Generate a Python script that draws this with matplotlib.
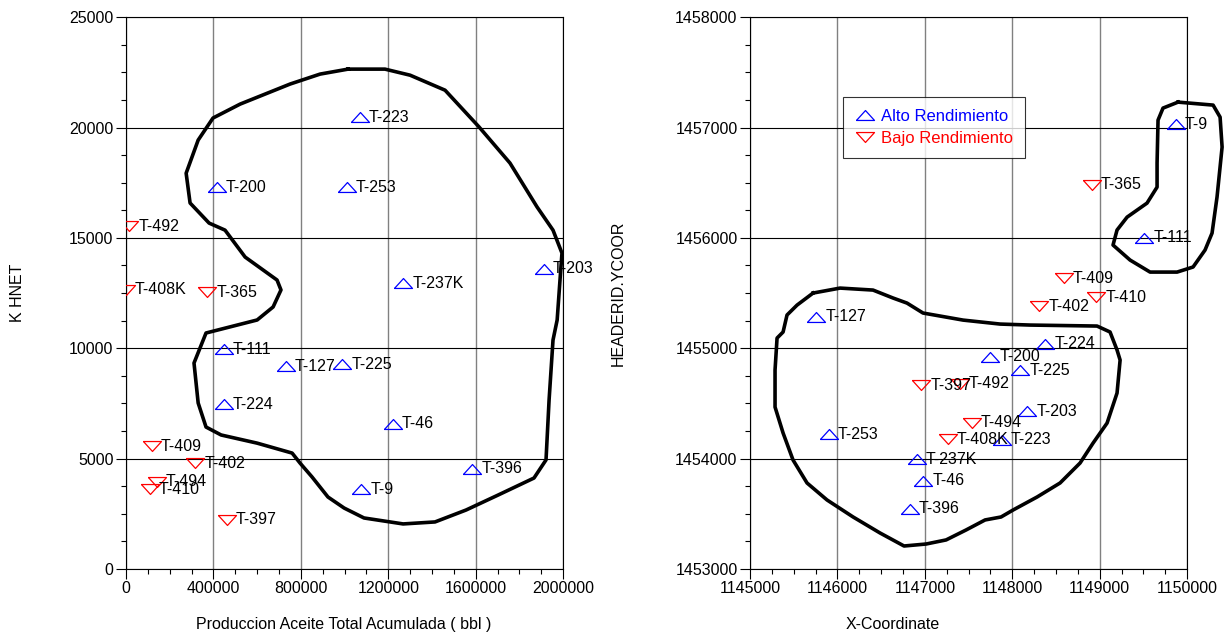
import numpy as np
import matplotlib
matplotlib.use("Agg")
from matplotlib import pyplot as plt
from matplotlib.lines import Line2D
from matplotlib.ticker import MultipleLocator

plt.rcParams['font.family'] = ['Liberation Sans', 'DejaVu Sans']
plt.rcParams['font.size'] = 11.5

# ---- left panel data: production vs K HNET ----
alto_names_l = ['T-223', 'T-200', 'T-253', 'T-237K', 'T-203', 'T-111', 'T-127', 'T-225',
                'T-224', 'T-46', 'T-396', 'T-9']
alto_x_l = [1071000, 416000, 1011000, 1268000, 1913000, 448000, 732000, 989000,
            448000, 1222000, 1584000, 1076000]
alto_y_l = [20470, 17300, 17300, 12950, 13590, 9960, 9190, 9280, 7470, 6570, 4530, 3620]

bajo_names_l = ['T-492', 'T-408K', 'T-365', 'T-409', 'T-402', 'T-494', 'T-410', 'T-397']
bajo_x_l = [14000, 0, 371000, 119000, 316000, 142000, 110000, 462000]
bajo_y_l = [15530, 12640, 12540, 5570, 4800, 3940, 3620, 2220]

# hand-drawn boundary (left)
contour_x_l = [1016000, 1185000, 1300000, 1460000, 1616000, 1757000, 1881000, 1954000, 1995000,
               1986000, 1973000, 1954000, 1936000, 1922000, 1867000, 1703000, 1556000, 1414000,
               1268000, 1089000, 998000, 924000, 851000, 796000, 760000, 600000, 435000, 366000,
               330000, 311000, 366000, 600000, 673000, 709000, 691000, 545000, 453000, 380000,
               293000, 275000, 330000, 398000, 522000, 751000, 888000, 1016000]
contour_y_l = [22645, 22645, 22370, 21690, 20020, 18390, 16400, 15350, 14310,
               13090, 11280, 10370, 7650, 4940, 4120, 3350, 2670, 2130,
               2040, 2310, 2760, 3260, 4170, 4800, 5250, 5700, 6070, 6430,
               7520, 9330, 10690, 11280, 11870, 12640, 13090, 14130, 15350, 15670,
               16580, 17930, 19430, 20430, 21060, 21970, 22420, 22645]

# ---- right panel data: coordinates ----
alto_names_r = ['T-9', 'T-111', 'T-127', 'T-253', 'T-237K', 'T-46', 'T-396', 'T-224',
                'T-200', 'T-225', 'T-203', 'T-223']
alto_x_r = [1149870, 1149510, 1145760, 1145900, 1146910, 1146980, 1146830, 1148380,
            1147750, 1148090, 1148170, 1147880]
alto_y_r = [1457030, 1456000, 1455285, 1454220, 1453995, 1453800, 1453545, 1455040,
            1454925, 1454800, 1454430, 1454170]

bajo_names_r = ['T-365', 'T-409', 'T-402', 'T-410', 'T-397', 'T-492', 'T-494', 'T-408K']
bajo_x_r = [1148910, 1148590, 1148310, 1148960, 1146960, 1147400, 1147540, 1147260]
bajo_y_r = [1456480, 1455635, 1455380, 1455460, 1454665, 1454680, 1454325, 1454175]

# small loop (upper right)
loop1_x = [1149897, 1150298, 1150378, 1150401, 1150343, 1150286, 1150206, 1150069, 1149886,
           1149577, 1149348, 1149153, 1149199, 1149314, 1149542, 1149657, 1149657, 1149668,
           1149725, 1149897]
loop1_y = [1457230, 1457203, 1457094, 1456823, 1456370, 1456043, 1455890, 1455736, 1455690,
           1455690, 1455799, 1455935, 1456071, 1456188, 1456315, 1456460, 1456678, 1457067,
           1457176, 1457230]

# big loop
loop2_x = [1145721, 1146030, 1146407, 1146636, 1146796, 1146979, 1147437, 1147861, 1148204,
           1148970, 1149119, 1149199, 1149234, 1149199, 1149085, 1148925, 1148776, 1148547,
           1148284, 1148009, 1147872, 1147689, 1147471, 1147243, 1147014, 1146762, 1146487,
           1146179, 1145881, 1145652, 1145492, 1145378, 1145286, 1145286, 1145309, 1145378,
           1145423, 1145538, 1145721]
loop2_y = [1455500, 1455545, 1455527, 1455455, 1455409, 1455319, 1455255, 1455219, 1455210,
           1455201, 1455147, 1454984, 1454893, 1454594, 1454322, 1454141, 1453960, 1453779,
           1453652, 1453534, 1453471, 1453444, 1453353, 1453263, 1453226, 1453208, 1453326,
           1453471, 1453625, 1453779, 1453987, 1454232, 1454467, 1454803, 1455092, 1455147,
           1455301, 1455391, 1455500]

# flattened triangles
up_tri = [(-1, -0.55), (1, -0.55), (0, 0.55), (-1, -0.55)]
down_tri = [(-1, 0.55), (1, 0.55), (0, -0.55), (-1, 0.55)]
BLUE = '#0000ff'
RED = '#ff0000'
MS = 13


def wells(ax, xs, ys, names, marker, color):
    ax.plot(xs, ys, linestyle='none', marker=marker, markersize=MS,
            markerfacecolor='none', markeredgecolor=color, markeredgewidth=0.9, zorder=4)
    for x, y, n in zip(xs, ys, names):
        ax.annotate(n, (x, y), xytext=(6.5, 0), textcoords='offset points',
                    ha='left', va='center', fontsize=11.5, color='black', zorder=5)


def style(ax, xmaj, xmin, ymaj, ymin):
    ax.xaxis.set_major_locator(MultipleLocator(xmaj))
    ax.xaxis.set_minor_locator(MultipleLocator(xmin))
    ax.yaxis.set_major_locator(MultipleLocator(ymaj))
    ax.yaxis.set_minor_locator(MultipleLocator(ymin))
    ax.ticklabel_format(style='plain', useOffset=False)
    ax.tick_params(which='major', direction='out', length=7, width=0.8, labelsize=11.5, pad=2)
    ax.tick_params(which='minor', direction='out', length=3.5, width=0.8)
    ax.grid(True, axis='x', color='#808080', linewidth=1.0)
    ax.grid(True, axis='y', color='black', linewidth=0.8)
    ax.set_axisbelow(True)
    for s in ax.spines.values():
        s.set_color('black')
        s.set_linewidth(0.8)


fig = plt.figure(figsize=(12.31, 6.35), dpi=100)
ax1 = fig.add_axes([0.1024, 0.104, 0.355, 0.869])
ax2 = fig.add_axes([0.6093, 0.104, 0.355, 0.869])

# Grafico 1
ax1.plot(contour_x_l, contour_y_l, color='black', linewidth=2.6, zorder=3, clip_on=False)
wells(ax1, alto_x_l, alto_y_l, alto_names_l, up_tri, BLUE)
wells(ax1, bajo_x_l, bajo_y_l, bajo_names_l, down_tri, RED)
ax1.set_xlim(0, 2000000)
ax1.set_ylim(0, 25000)
style(ax1, 400000, 100000, 5000, 1250)
ax1.set_xlabel('Produccion Aceite Total Acumulada ( bbl )', fontsize=11.5)
ax1.set_ylabel('K HNET', fontsize=11.5)
ax1.xaxis.set_label_coords(0.499, -0.087)
ax1.yaxis.set_label_coords(-0.232, 0.5)

# Grafico 2
ax2.plot(loop1_x, loop1_y, color='black', linewidth=2.6, zorder=3, clip_on=False)
ax2.plot(loop2_x, loop2_y, color='black', linewidth=2.6, zorder=3, clip_on=False)
wells(ax2, alto_x_r, alto_y_r, alto_names_r, up_tri, BLUE)
wells(ax2, bajo_x_r, bajo_y_r, bajo_names_r, down_tri, RED)
ax2.set_xlim(1145000, 1150000)
ax2.set_ylim(1453000, 1458000)
style(ax2, 1000, 250, 1000, 250)
ax2.set_xlabel('X-Coordinate', fontsize=11.5)
ax2.set_ylabel('HEADERID.YCOOR', fontsize=11.5)
ax2.xaxis.set_label_coords(0.327, -0.087)
ax2.yaxis.set_label_coords(-0.285, 0.5)

handles = [
    Line2D([], [], linestyle='none', marker=up_tri, markersize=MS, markerfacecolor='none',
           markeredgecolor=BLUE, markeredgewidth=0.9),
    Line2D([], [], linestyle='none', marker=down_tri, markersize=MS, markerfacecolor='none',
           markeredgecolor=RED, markeredgewidth=0.9),
]
leg = ax2.legend(handles, ['Alto Rendimiento', 'Bajo Rendimiento'], loc='upper left',
                 bbox_to_anchor=(0.213, 0.855), fontsize=12, frameon=True, fancybox=False,
                 handlelength=1.2, handletextpad=0.4, borderpad=0.7, labelspacing=0.45,
                 borderaxespad=0)
leg.get_frame().set_edgecolor('black')
leg.get_frame().set_linewidth(0.8)
leg.set_zorder(6)
for t, c in zip(leg.get_texts(), [BLUE, RED]):
    t.set_color(c)

fig.savefig('out.png', dpi=100)
